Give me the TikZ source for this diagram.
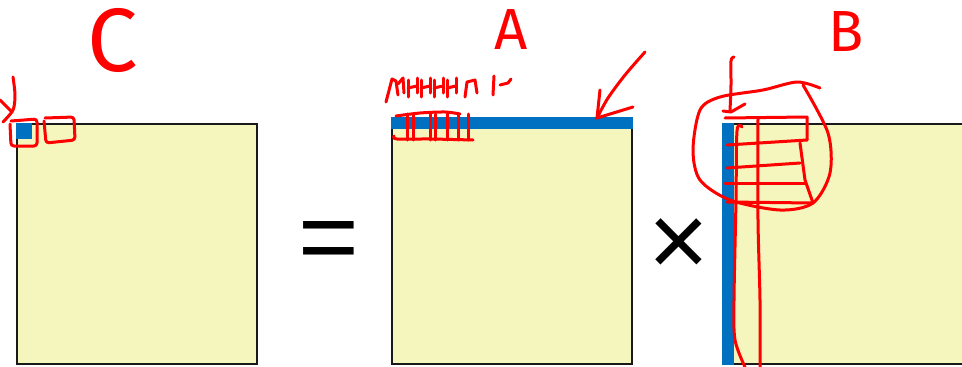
\documentclass[tikz,border=0pt]{standalone}
\usepackage{fontspec}
\setmainfont{Liberation Sans}
\newfontfamily\handfont{Fira Sans}
\usetikzlibrary{positioning}
\definecolor{matfill}{RGB}{245,245,190}
\definecolor{hlblue}{RGB}{0,112,192}
\definecolor{penred}{RGB}{255,0,0}

\begin{document}
\begin{tikzpicture}[
  x=1pt,y=-1pt,
  mat/.style={draw=black!90,line width=1.3pt,fill=matfill,minimum width=240pt,minimum height=240pt,inner sep=0pt},
  op/.style={inner sep=0pt,font=\fontsize{104}{104}\selectfont},
  hand/.style={inner sep=0pt,text=penred,font=\handfont\fontsize{#1}{#1}\selectfont},
  pen/.style={draw=penred,line width=3pt,line cap=round,line join=round}
]
\useasboundingbox (0,0) rectangle (962,367);
\clip (0,0) rectangle (962,367);
% matrices
\node[mat] (matC) at (137,244) {};
\node[mat] (matA) at (512,244) {};
\node[mat] (matB) at (844,244) {};
\node[op] (eq) at (329,247) {=};
\node[op] (times) at (679,247.5) {×};
% highlighted tile, row and column
\fill[hlblue] (matC.north west) rectangle ++(16,16);
\fill[hlblue] ([yshift=6pt]matA.north west) rectangle ([yshift=-6pt]matA.north east);
\fill[hlblue] ([xshift=-1pt]matB.north west) rectangle ([xshift=11pt]matB.south west);
% handwritten names
\node[hand=90] (labC) at (113,40) {C};
\node[hand=58] (labA) at (511,30) {A};
\node[hand=58] (labB) at (846,32) {B};
% pen marks on C
\draw[pen] plot[smooth] coordinates {(13,77) (15,95) (13,110) (3,122)};
\draw[pen] (0,100) -- (12,112);
\draw[pen,rounded corners=3pt] (11,121) -- (37,119) -- (37,146) -- (11,146) -- (10,124);
\draw[pen,rounded corners=3pt] (45,118) -- (74,117) -- (75,140) -- (46,143) -- (44,121);
% pen marks on A
\draw[pen] (386,102) -- (392,79) -- (396,81) -- (398,95);
\draw[pen] (398,84) -- (403,78) -- (404,93);
\foreach \x in {408,421,434,447} {
  \draw[pen] (\x,80) -- (\x,97);
  \draw[pen] (\x,88) -- (\x+9,86);
  \draw[pen] (\x+9,78) -- (\x+9,93);
}
\draw[pen] (465,97) -- (467,82) -- (475,80) -- (477,93);
\draw[pen] (494,76) -- (493,95);
\draw[pen] (500,85) -- (508,83) -- (511,79);
\draw[pen] plot[smooth] coordinates {(396,116) (420,113) (445,112) (460,114)};
\draw[pen] plot[smooth] coordinates {(394,136) (397,139) (430,139) (473,140)};
\foreach \x in {407,413,430,435,447,458,468}
  \draw[pen] (\x,114) -- (\x,140);
\draw[pen] plot[smooth] coordinates {(645,52) (625,75) (608,98) (597,118)};
\draw[pen] (600,90) -- (597,118) -- (633,107);
% pen marks on B
\draw[pen] plot[smooth] coordinates {(734,57) (731,61) (731,85) (730,111)};
\draw[pen] (723,111) -- (731,112) -- (745,104);
\draw[pen] (725,118) -- (807,117) -- (807,140);
\draw[pen] (727,145) -- (807,140);
\draw[pen] (727,168) -- (800,163);
\draw[pen] (725,183) -- (805,183);
\draw[pen] (727,202) -- (813,203);
\draw[pen] (800,143) -- (805,180) -- (813,203);
\draw[pen] plot[smooth] coordinates {(742,127) (737,131) (736,200) (734,300) (735,340) (745,367)};
\draw[pen] plot[smooth] coordinates {(758,118) (758,220) (760,300) (760,367)};
\draw[pen] plot[smooth] coordinates {(820,88) (797,82) (763,90) (720,97) (700,110) (693,150) (700,180) (730,200) (780,210) (813,203) (830,173) (828,133) (803,85)};
\end{tikzpicture}
\end{document}
